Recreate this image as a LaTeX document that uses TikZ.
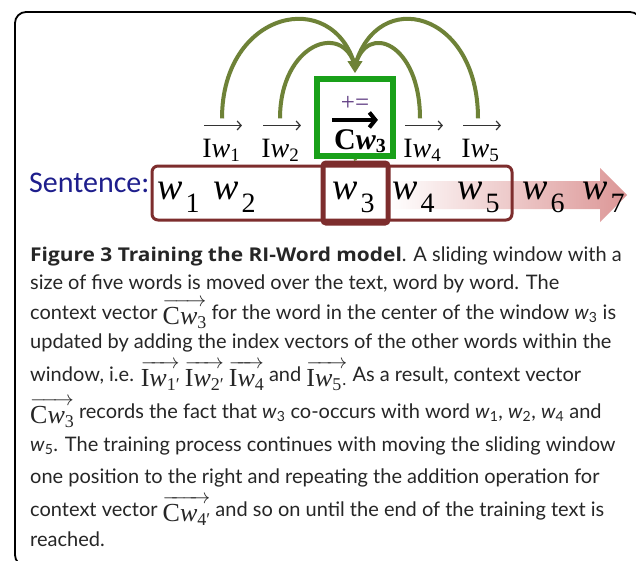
\documentclass[tikz,border=0pt]{standalone}
\usepackage{fontspec}
\usepackage{amsmath}
\usepackage{graphicx}
\setmainfont{Lato}
\newfontfamily\tms{Liberation Serif}
\newfontfamily\snt{Carlito}
\newfontfamily\boldcap{Open Sans}
\usetikzlibrary{calc,arrows.meta}
\definecolor{navyc}{RGB}{30,30,140}
\definecolor{maroonc}{RGB}{125,45,45}
\definecolor{greenc}{RGB}{25,160,25}
\definecolor{olivec}{RGB}{110,130,55}
\definecolor{purplec}{RGB}{95,60,130}
\definecolor{pinkc}{RGB}{220,150,150}
\newcommand{\vecw}[2]{\raisebox{-5pt}{$\overrightarrow{\hbox{\tms\fontsize{26}{26}\selectfont #1\textit{w}\raisebox{-4pt}{\fontsize{18}{18}\selectfont #2}}}$}}
\newcommand{\sw}[1]{\textit{w}\textsubscript{#1}}
\tikzset{
  lbl/.style={font=\tms\fontsize{28}{28}\selectfont, inner sep=0pt, anchor=base},
  wrd/.style={font=\tms\fontsize{38}{38}\selectfont, inner sep=0pt, anchor=base west},
  capline/.style={font=\fontsize{20}{24}\selectfont, inner sep=0pt, anchor=base west, text=black!85},
  arcline/.style={draw=olivec, line width=4pt},
  vecarr/.style={draw=black!80, line width=1.2pt, -{Straight Barb[length=4pt,width=9pt]}},
  winbox/.style={draw=maroonc, line width=3pt, rounded corners=6pt, inner sep=0pt},
}
\begin{document}
\begin{tikzpicture}[x=1pt,y=-1pt]
\useasboundingbox (0,0) rectangle (636,560);
\fill[white] (0,0) rectangle (636,560);
% frame
\draw[black, line width=1.8pt, rounded corners=11pt] (15,12) rectangle (641,566);

% pink arrow
\shade[left color=white, right color=pinkc] (388,181) -- (600,181) -- (600,168) -- (627,195) -- (600,222) -- (600,209) -- (388,209) -- cycle;

% sentence boxes
\node[winbox, minimum width=360pt, minimum height=54pt] (win) at (332,193) {};
\node[draw=maroonc, line width=5pt, rounded corners=3pt, inner sep=0pt, minimum width=65pt, minimum height=60pt] (w3box) at (355.5,193) {};

\node[font=\snt\fontsize{30}{30}\selectfont, text=navyc, inner sep=0pt, anchor=base west] (sent) at (29,192) {Sentence:};
\node[wrd] (w1) at (157,199) {\textit{w}\hspace{3pt}\raisebox{-13pt}{\fontsize{28}{28}\selectfont 1}};
\node[wrd] (w2) at (213,199) {\textit{w}\hspace{3pt}\raisebox{-13pt}{\fontsize{28}{28}\selectfont 2}};
\node[wrd] (w3) at (332,199) {\textit{w}\hspace{3pt}\raisebox{-13pt}{\fontsize{28}{28}\selectfont 3}};
\node[wrd] (w4) at (392,199) {\textit{w}\hspace{3pt}\raisebox{-13pt}{\fontsize{28}{28}\selectfont 4}};
\node[wrd] (w5) at (457,199) {\textit{w}\hspace{3pt}\raisebox{-13pt}{\fontsize{28}{28}\selectfont 5}};
\node[wrd] (w6) at (522,199) {\textit{w}\hspace{3pt}\raisebox{-13pt}{\fontsize{28}{28}\selectfont 6}};
\node[wrd] (w7) at (582,199) {\textit{w}\hspace{3pt}\raisebox{-13pt}{\fontsize{28}{28}\selectfont 7}};

% green box
\node[draw=greenc, line width=6pt, inner sep=0pt, minimum width=76pt, minimum height=77pt] (gbox) at (355,117.5) {};
\node[font=\tms\fontsize{25}{25}\selectfont, text=purplec, inner sep=0pt] (pluseq) at (355,103) {+=};
\node[lbl, font=\tms\bfseries\fontsize{30}{30}\selectfont] (cw3) at (360,149) {C\textit{w}\raisebox{-3pt}{\fontsize{20}{20}\selectfont 3}};
\draw[line width=4pt, -{Straight Barb[length=6pt,width=15pt]}] ($(cw3.north west)+(-2,-9)$) -- ($(cw3.north west)+(44,-9)$);

% labels
\node[lbl] (iw1) at (221,157) {I\textit{w}\raisebox{-4pt}{\fontsize{19}{19}\selectfont 1}};
\node[lbl] (iw2) at (280,157) {I\textit{w}\raisebox{-4pt}{\fontsize{19}{19}\selectfont 2}};
\node[lbl] (iw4) at (422,157) {I\textit{w}\raisebox{-4pt}{\fontsize{19}{19}\selectfont 4}};
\node[lbl] (iw5) at (480,157) {I\textit{w}\raisebox{-4pt}{\fontsize{19}{19}\selectfont 5}};
\foreach \n in {iw1,iw2,iw4,iw5}{
  \draw[vecarr] ($(\n.north west)+(2,-13)$) -- ($(\n.north east)+(2,-13)$);
}

% arcs
\coordinate (meet) at (355,66);
\coordinate (s1) at ($(iw1.north)+(1,-20)$);
\coordinate (s2) at ($(iw2.north)+(0,-20)$);
\coordinate (s4) at ($(iw4.north)+(-2,-20)$);
\coordinate (s5) at ($(iw5.north)+(-2,-20)$);
\draw[arcline] (s1) .. controls +(0,-108) and +(-22,-80) .. (meet);
\draw[arcline] (s2) .. controls +(0,-75) and +(-12,-45) .. (meet);
\draw[arcline] (s4) .. controls +(0,-75) and +(12,-45) .. (meet);
\draw[arcline] (s5) .. controls +(0,-108) and +(22,-80) .. (meet);
\draw[arcline, line width=1pt, fill=olivec, -{Triangle[length=12pt,width=15pt]}, shorten >=3pt] (meet) -- (gbox.north);
\draw[draw=olivec, line width=3pt] (gbox.south) -- (w3box.north);

% caption
\node[capline] (l1) at (30,261) {\scalebox{1.1}[1]{\boldcap\bfseries\fontsize{19}{24}\selectfont Figure 3 Training the RI-Word model}. A sliding window with a};
\node[capline] (l2) at (30,289) {size of five words is moved over the text, word by word. The};
\node[capline] (l3) at (30,319) {context vector \vecw{C}{3} for the word in the center of the window \sw{3} is};
\node[capline] (l4) at (30,348) {updated by adding the index vectors of the other words within the};
\node[capline] (l5) at (30,381) {window, i.e. \vecw{I}{1′} \vecw{I}{2′} \vecw{I}{4} and \vecw{I}{5·} As a result, context vector};
\node[capline] (l6) at (30,418) {\vecw{C}{3} records the fact that \sw{3} co-occurs with word \sw{1}, \sw{2}, \sw{4} and};
\node[capline] (l7) at (30,451) {\sw{5}. The training process continues with moving the sliding window};
\node[capline] (l8) at (30,483) {one position to the right and repeating the addition operation for};
\node[capline] (l9) at (30,516) {context vector \vecw{C}{4′} and so on until the end of the training text is};
\node[capline] (l10) at (30,546) {reached.};
\end{tikzpicture}
\end{document}
